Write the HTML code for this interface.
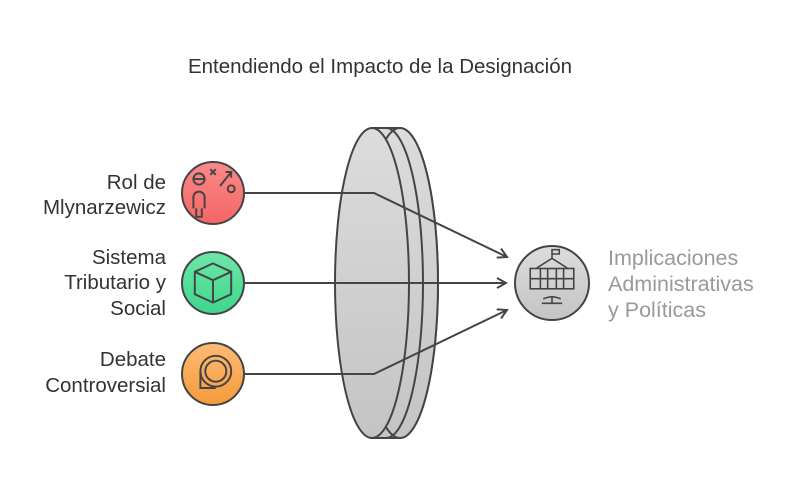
<!DOCTYPE html>
<html><head><meta charset="utf-8"><style>
body{margin:0;background:#fff;}
svg text{font-family:"Liberation Sans",sans-serif;}
</style></head><body>
<svg width="800" height="491" viewBox="0 0 800 491" xmlns="http://www.w3.org/2000/svg">
<defs>
<linearGradient id="gl" x1="0" y1="0" x2="0" y2="1"><stop offset="0" stop-color="#dcdcdc"/><stop offset="1" stop-color="#c4c4c4"/></linearGradient>
<linearGradient id="gr" x1="0" y1="0" x2="0" y2="1"><stop offset="0" stop-color="#fb8a8a"/><stop offset="1" stop-color="#f56565"/></linearGradient>
<linearGradient id="gg" x1="0" y1="0" x2="0" y2="1"><stop offset="0" stop-color="#6ee7a8"/><stop offset="1" stop-color="#3ed68a"/></linearGradient>
<linearGradient id="go" x1="0" y1="0" x2="0" y2="1"><stop offset="0" stop-color="#fdbb74"/><stop offset="1" stop-color="#f79a3a"/></linearGradient>
<marker id="ah" markerWidth="12" markerHeight="12" refX="10" refY="6" orient="auto" markerUnits="userSpaceOnUse"><path d="M1,1 L10,6 L1,11" fill="none" stroke="#444" stroke-width="2"/></marker>
</defs>
<text x="380" y="73" font-size="20.5" fill="#333" text-anchor="middle">Entendiendo el Impacto de la Designación</text>
<g stroke="#444" stroke-width="2" fill="url(#gl)">
<path d="M400,128 A38,155 0 0 1 400,438 L372,438 L372,128 Z"/>
<ellipse cx="400" cy="283" rx="38" ry="155"/>
<path d="M386,128 A37,155 0 0 1 386,438" fill="none"/>
<ellipse cx="372" cy="283" rx="37" ry="155"/>
<line x1="372" y1="128" x2="400" y2="128"/>
<line x1="372" y1="438" x2="400" y2="438"/>
</g>
<g stroke="#444" stroke-width="2" fill="none">
<polyline points="245,193 374,193 507,257" marker-end="url(#ah)"/>
<line x1="245" y1="283" x2="506" y2="283" marker-end="url(#ah)"/>
<polyline points="245,374 374,374 507,310" marker-end="url(#ah)"/>
</g>
<g stroke="#444" stroke-width="2">
<circle cx="213" cy="193" r="31" fill="url(#gr)"/>
<circle cx="213" cy="283" r="31" fill="url(#gg)"/>
<circle cx="213" cy="374" r="31" fill="url(#go)"/>
<circle cx="552" cy="283" r="37" fill="url(#gl)"/>
</g>
<g stroke="#444" stroke-width="1.4" fill="none">
<g transform="translate(213,193) scale(1.4) translate(-213,-193)">
<circle cx="203" cy="183" r="4"/><line x1="199" y1="183" x2="207" y2="183"/>
<path d="M199,204 v-8 a4,4 0 0 1 8,0 v8 M201,204 v6 h4 v-6"/>
<path d="M211,176 l4,4 M215,176 l-4,4 M218,188 l8,-10 M222,178 h4 v4"/><circle cx="226" cy="190" r="2.5"/>
</g>
<g transform="translate(213,283) scale(1.4) translate(-213,-283)">
<path d="M200,275 l13,-6 l13,6 v16 l-13,6 l-13,-6 z M200,275 l13,6 l13,-6 M213,281 v16"/>
</g>
<g transform="translate(213,374) scale(1.4) translate(-213,-374)">
<circle cx="215" cy="372" r="11"/><circle cx="215" cy="372" r="7.5"/><path d="M204,372 v12 h11"/>
</g>
<g transform="translate(552,283) scale(1.45) translate(-552,-283)" stroke-width="1.1"><rect x="537" y="273" width="30" height="14"/><path d="M541,273 l11,-7 l11,7 M552,266 v-6 h5 v3 h-5 M537,280 h30 M544,273 v14 M549,273 v14 M555,273 v14 M560,273 v14 M545,297 h14 M552,297 v-4 M546,294 q6,-3 12,0"/></g>
</g>
<g font-size="20.5" fill="#333" text-anchor="end">
<text x="166" y="189">Rol de</text><text x="166" y="214">Mlynarzewicz</text>
<text x="166" y="264">Sistema</text><text x="166" y="289">Tributario y</text><text x="166" y="315">Social</text>
<text x="166" y="366">Debate</text><text x="166" y="392">Controversial</text>
</g>
<g font-size="21.5" fill="#999">
<text x="608" y="265">Implicaciones</text><text x="608" y="291">Administrativas</text><text x="608" y="317">y Políticas</text>
</g>
</svg>
</body></html>
